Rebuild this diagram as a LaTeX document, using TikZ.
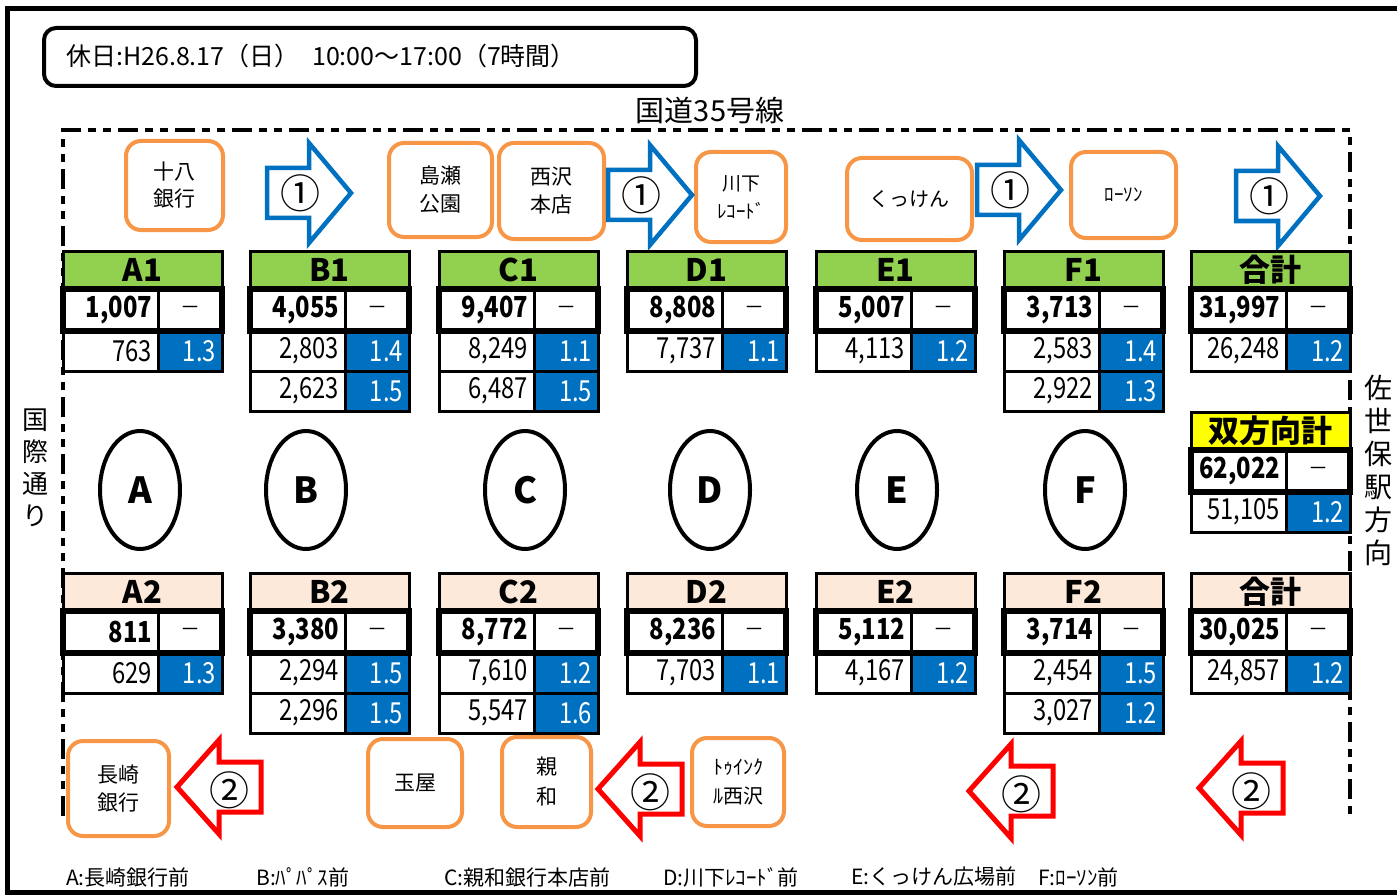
\documentclass[tikz,border=0pt]{standalone}
\usepackage{fontspec}
\setmainfont{Noto Sans CJK JP}
\newfontfamily\nar[FakeStretch=0.82]{Noto Sans CJK JP}
\usetikzlibrary{shapes.geometric}
\definecolor{hdrgreen}{HTML}{92D050}
\definecolor{hdrpeach}{HTML}{FDE9D9}
\definecolor{hdryellow}{HTML}{FFFF00}
\definecolor{cellblue}{HTML}{0070C0}
\definecolor{boxorange}{HTML}{F79646}
\definecolor{arrred}{HTML}{FF0000}
\tikzset{
  hdr/.style={draw=black, line width=3pt, minimum width=159pt, minimum height=38pt,
    inner sep=0pt, outer sep=0pt, anchor=north west, font=\bfseries\fontsize{31}{31}\selectfont},
  boldnum/.style={draw=black, line width=3pt, fill=white, text width=83pt, align=right,
    inner xsep=6pt, inner ysep=0pt, minimum height=42pt, outer sep=0pt, anchor=north west,
    font=\nar\bfseries\fontsize{29}{29}\selectfont},
  boldmark/.style={draw=black, line width=3pt, fill=white, minimum width=64pt,
    inner sep=0pt, minimum height=42pt, outer sep=0pt, anchor=north west,
    font=\fontsize{20}{20}\selectfont},
  numcell/.style={draw=black, line width=3pt, fill=white, text width=83pt, align=right,
    inner xsep=6pt, inner ysep=0pt, minimum height=40pt, outer sep=0pt, anchor=north west,
    font=\nar\fontsize{29}{29}\selectfont},
  ratiocell/.style={draw=black, line width=3pt, fill=cellblue, text=white, text width=52pt, align=right,
    inner xsep=6pt, inner ysep=0pt, minimum height=40pt, outer sep=0pt, anchor=north west,
    font=\nar\fontsize{29}{29}\selectfont},
  obox/.style={draw=boxorange, line width=4pt, rounded corners=15pt, fill=white,
    align=center, inner sep=0pt},
  bluearr/.style={draw=cellblue, line width=4.5pt, fill=white, line join=miter},
  redarr/.style={draw=arrred, line width=5pt, fill=white, line join=miter},
  circnum/.style={inner sep=0pt, font=\fontsize{40}{40}\selectfont},
  oval/.style={draw=black, ellipse, line width=4pt, minimum width=80pt, minimum height=118pt,
    inner sep=0pt, font=\bfseries\fontsize{36}{36}\selectfont},
  roadline/.style={line width=3.5pt, dash pattern=on 20pt off 7pt on 8pt off 7pt on 8pt off 7pt},
  legend/.style={anchor=west, inner sep=0pt, font=\fontsize{21}{21}\selectfont},
}
\newcommand\mktbl[7]{%
  \node[hdr, fill=#4] (#1h) at (#2,#3) {#5};
  \node[boldnum] (#1bl) at (#1h.south west) {#6};
  \node[boldmark] (#1br) at (#1bl.north east) {－};
  #7
  \draw[line width=5.5pt] (#1bl.north west) rectangle (#1br.south east);
}
\newcommand\mkrow[4]{%
  \node[numcell] (#1L) at (#2.south west) {#3};
  \node[ratiocell] (#1R) at (#1L.north east) {#4};
}
\newcommand\rarrow[4]{%
  \draw[bluearr] (#2,#3-25) -- (#2+42,#3-25) -- (#2+42,#3-50) -- (#2+84,#3)
    -- (#2+42,#3+50) -- (#2+42,#3+25) -- (#2,#3+25) -- cycle;
  \node[circnum] (#1) at (#2+33,#3) {#4};
}
\newcommand\larrow[4]{%
  \draw[redarr] (#2,#3) -- (#2+42,#3-47) -- (#2+42,#3-25) -- (#2+84,#3-25)
    -- (#2+84,#3+25) -- (#2+42,#3+25) -- (#2+42,#3+47) -- cycle;
  \node[circnum] (#1) at (#2+52,#3+3) {#4};
}
\begin{document}
\begin{tikzpicture}[x=1pt,y=-1pt]
\useasboundingbox (0,0) rectangle (1397,896);
% outer frame
\draw[line width=5pt] (1397,9) -- (7,9) -- (7,892) -- (1397,892);
% title
\node[draw=black, line width=4pt, rounded corners=12pt, minimum width=652pt, minimum height=58pt,
  inner sep=0pt, anchor=north west] (titlebox) at (42,26) {};
\node[anchor=west, inner sep=0pt, font=\fontsize{25}{25}\selectfont] (titletext) at (66,56)
  {休日:H26.8.17（日）\hspace{0.5em}10:00～17:00（7時間）};
\node[inner sep=0pt, font=\fontsize{29}{29}\selectfont] (road) at (710,110) {国道35号線};
% dashed road outline
\coordinate (dl1) at (63,816);
\coordinate (dl2) at (63,130);
\coordinate (dr1) at (1350,130);
\coordinate (dr2) at (1350,817);
\draw[roadline] (dl1) -- (dl2) -- (dr1) -- (dr2);
% side labels
\node[align=center, inner sep=0pt, font=\fontsize{26}{32}\selectfont] (kokusai) at (35,468)
  {国\\際\\通\\り};
\node[align=center, inner sep=0pt, font=\fontsize{28}{33}\selectfont] (sasebo) at (1378,470)
  {佐\\世\\保\\駅\\方\\向};
% top orange boxes
\node[obox, minimum width=97pt, minimum height=89pt, font=\fontsize{21}{27}\selectfont] (b18) at (174.5,185.5) {十八\\銀行};
\node[obox, minimum width=103pt, minimum height=94pt, font=\fontsize{21}{28}\selectfont] (bshima) at (440.5,190) {島瀬\\公園};
\node[obox, minimum width=105pt, minimum height=96pt, font=\fontsize{21}{28}\selectfont] (bnishi) at (551.5,191) {西沢\\本店};
\node[obox, minimum width=90pt, minimum height=90pt, font=\fontsize{19}{28}\selectfont] (bkawa) at (741,197) {川下\\ﾚｺｰﾄﾞ};
\node[obox, minimum width=125pt, minimum height=82pt, font=\fontsize{20}{24}\selectfont] (bkukken) at (909.5,199) {くっけん};
\node[obox, minimum width=105pt, minimum height=86pt, font=\fontsize{19}{24}\selectfont] (blawson) at (1123.5,195) {ﾛｰｿﾝ};
% bottom orange boxes
\node[obox, minimum width=101pt, minimum height=95pt, font=\fontsize{21}{28}\selectfont] (bnaga) at (118.5,788.5) {長崎\\銀行};
\node[obox, minimum width=94pt, minimum height=88pt, font=\fontsize{21}{24}\selectfont] (btama) at (415,783) {玉屋};
\node[obox, minimum width=89pt, minimum height=90pt, font=\fontsize{21}{30}\selectfont] (bshinwa) at (546.5,782) {親\\和};
\node[obox, minimum width=92pt, minimum height=88pt, font=\fontsize{20}{29}\selectfont] (btwin) at (738,782) {ﾄｩｲﾝｸ\\ﾙ西沢};
% blue arrows (direction 1)
\rarrow{r1}{267}{193}{①}
\rarrow{r2}{608}{195}{①}
\rarrow{r3}{977}{190}{①}
\rarrow{r4}{1236}{196}{①}
% red arrows (direction 2)
\larrow{l1}{177}{787}{②}
\larrow{l2}{598}{789}{②}
\larrow{l3}{969}{791}{②}
\larrow{l4}{1199}{788}{②}
% ellipses
\node[oval] (eA) at (140,490) {A};
\node[oval] (eB) at (306,490) {B};
\node[oval] (eC) at (525,490) {C};
\node[oval] (eD) at (710,490) {D};
\node[oval] (eE) at (897,490) {E};
\node[oval] (eF) at (1085,490) {F};
% top tables
\mktbl{A1}{63}{251}{hdrgreen}{A1}{1,007}{\mkrow{A1x}{A1bl}{763}{1.3}}
\mktbl{B1}{250}{251}{hdrgreen}{B1}{4,055}{\mkrow{B1x}{B1bl}{2,803}{1.4}\mkrow{B1y}{B1xL}{2,623}{1.5}}
\mktbl{C1}{439}{251}{hdrgreen}{C1}{9,407}{\mkrow{C1x}{C1bl}{8,249}{1.1}\mkrow{C1y}{C1xL}{6,487}{1.5}}
\mktbl{D1}{627}{251}{hdrgreen}{D1}{8,808}{\mkrow{D1x}{D1bl}{7,737}{1.1}}
\mktbl{E1}{816}{251}{hdrgreen}{E1}{5,007}{\mkrow{E1x}{E1bl}{4,113}{1.2}}
\mktbl{F1}{1004}{251}{hdrgreen}{F1}{3,713}{\mkrow{F1x}{F1bl}{2,583}{1.4}\mkrow{F1y}{F1xL}{2,922}{1.3}}
\mktbl{T1}{1191}{251}{hdrgreen}{合計}{31,997}{\mkrow{T1x}{T1bl}{26,248}{1.2}}
% both directions total
\mktbl{TT}{1191}{412}{hdryellow}{双方向計}{62,022}{\mkrow{TTx}{TTbl}{51,105}{1.2}}
% bottom tables
\mktbl{A2}{63}{573}{hdrpeach}{A2}{811}{\mkrow{A2x}{A2bl}{629}{1.3}}
\mktbl{B2}{250}{573}{hdrpeach}{B2}{3,380}{\mkrow{B2x}{B2bl}{2,294}{1.5}\mkrow{B2y}{B2xL}{2,296}{1.5}}
\mktbl{C2}{439}{573}{hdrpeach}{C2}{8,772}{\mkrow{C2x}{C2bl}{7,610}{1.2}\mkrow{C2y}{C2xL}{5,547}{1.6}}
\mktbl{D2}{627}{573}{hdrpeach}{D2}{8,236}{\mkrow{D2x}{D2bl}{7,703}{1.1}}
\mktbl{E2}{816}{573}{hdrpeach}{E2}{5,112}{\mkrow{E2x}{E2bl}{4,167}{1.2}}
\mktbl{F2}{1004}{573}{hdrpeach}{F2}{3,714}{\mkrow{F2x}{F2bl}{2,454}{1.5}\mkrow{F2y}{F2xL}{3,027}{1.2}}
\mktbl{T2}{1191}{573}{hdrpeach}{合計}{30,025}{\mkrow{T2x}{T2bl}{24,857}{1.2}}
% legend
\node[legend] (legA) at (66,877) {A:長崎銀行前};
\node[legend] (legB) at (256,877) {B:ﾊﾟﾊﾟｽ前};
\node[legend] (legC) at (444,877) {C:親和銀行本店前};
\node[legend] (legD) at (663,877) {D:川下ﾚｺｰﾄﾞ前};
\node[legend] (legE) at (851,877) {E:くっけん広場前};
\node[legend] (legF) at (1038,877) {F:ﾛｰｿﾝ前};
\end{tikzpicture}
\end{document}
